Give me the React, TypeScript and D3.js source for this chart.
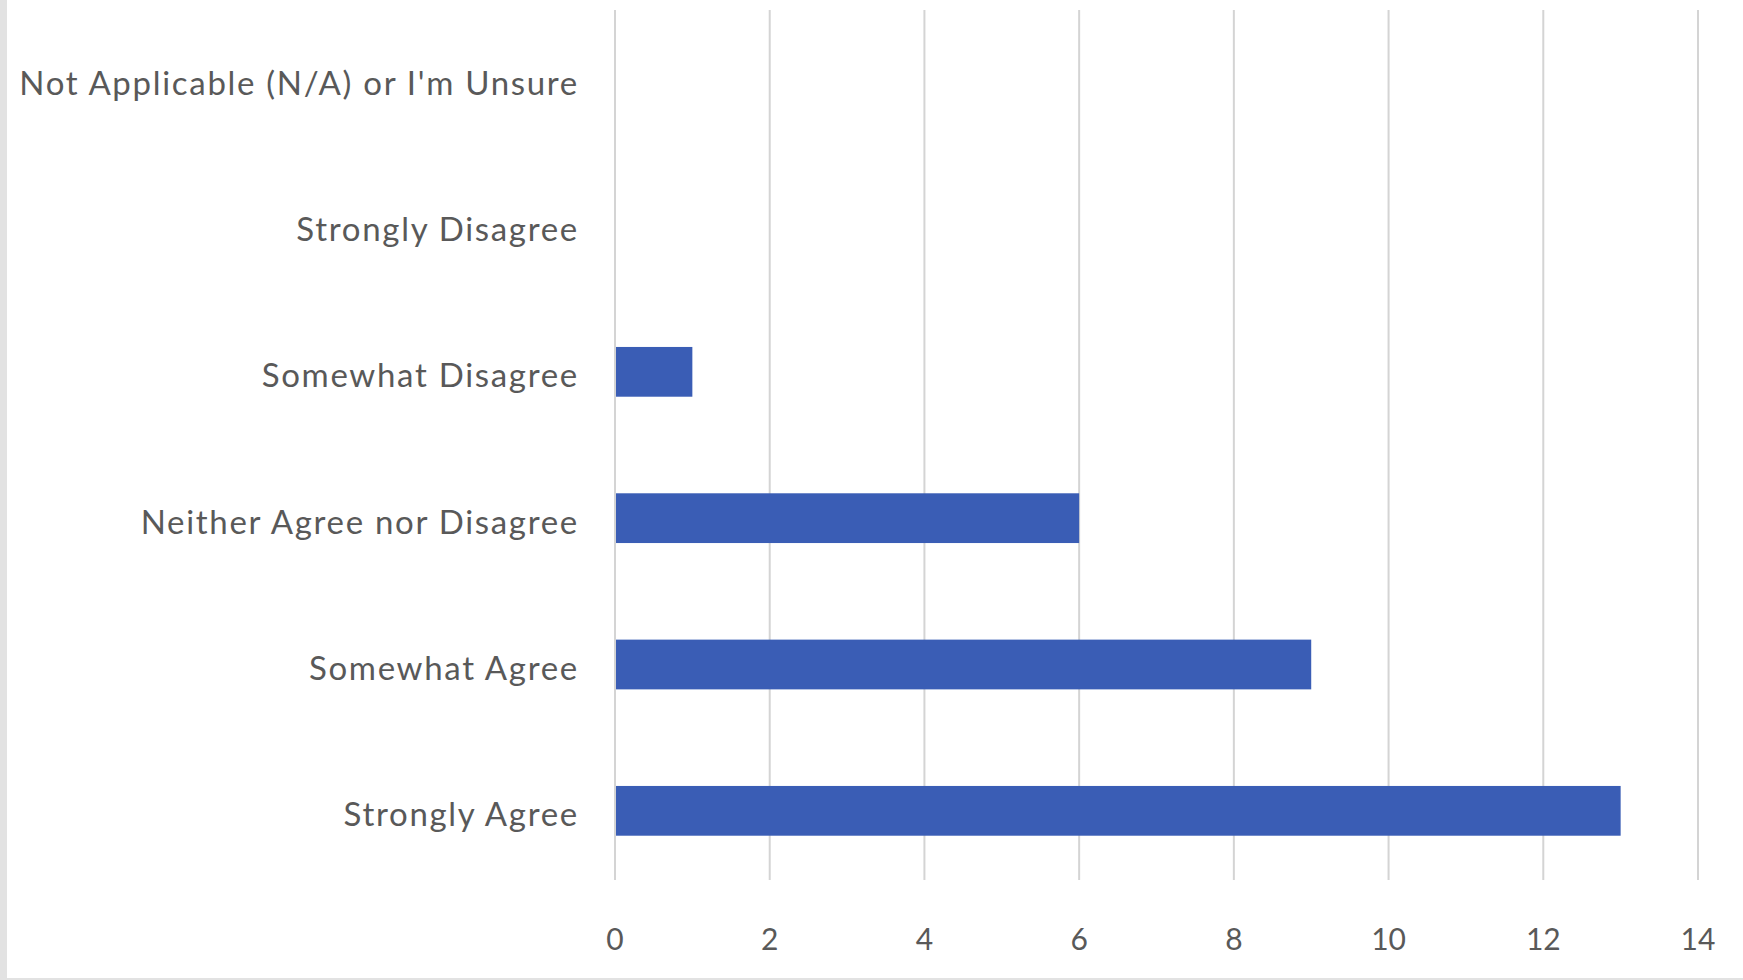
import React from "react";
import * as d3 from "d3";

const categories = [
  "Not Applicable (N/A) or I'm Unsure",
  "Strongly Disagree",
  "Somewhat Disagree",
  "Neither Agree nor Disagree",
  "Somewhat Agree",
  "Strongly Agree",
];
const values = [0, 0, 1, 6, 9, 13];
const xTicks = [0, 2, 4, 6, 8, 10, 12, 14];

const W = 1743;
const H = 980;

export default function App() {
  const x = d3.scaleLinear().domain([0, 14]).range([615, 1698]);
  const y = d3
    .scaleBand<string>()
    .domain(categories)
    .range([6, 884])
    .paddingInner(0.66)
    .paddingOuter(0.33);

  const font = "Lato, 'Open Sans', sans-serif";
  const textColor = "#595959";

  return (
    <svg
      width={W}
      height={H}
      style={{ position: "absolute", left: 0, top: 0, display: "block", background: "#ffffff" }}
    >
      <rect x={0} y={0} width={W} height={H} fill="#ffffff" />
      <rect x={0} y={0} width={7} height={H} fill="#e2e2e2" />
      <rect x={0} y={978} width={W} height={2} fill="#e2e2e2" />

      {xTicks.map((t) => (
        <line
          key={"g" + t}
          x1={x(t)}
          x2={x(t)}
          y1={10}
          y2={880}
          stroke="#d4d4d4"
          strokeWidth={2}
        />
      ))}

      {categories.map((c, i) => (
        <rect
          key={"b" + c}
          x={x(0) + 1}
          y={y(c)!}
          width={Math.max(0, x(values[i]) - x(0) - 1)}
          height={y.bandwidth()}
          fill="#3a5db5"
        />
      ))}

      {categories.map((c) => (
        <text
          key={"l" + c}
          x={579}
          y={y(c)! + y.bandwidth() / 2 + 4}
          dy="0.35em"
          textAnchor="end"
          fontFamily={font}
          fontSize={33}
          letterSpacing={1.7}
          fill={textColor}
        >
          {c}
        </text>
      ))}

      {xTicks.map((t) => (
        <text
          key={"t" + t}
          x={x(t)}
          y={939}
          dy="0.35em"
          textAnchor="middle"
          fontFamily={font}
          fontSize={30}
          fill={textColor}
        >
          {t}
        </text>
      ))}
    </svg>
  );
}
